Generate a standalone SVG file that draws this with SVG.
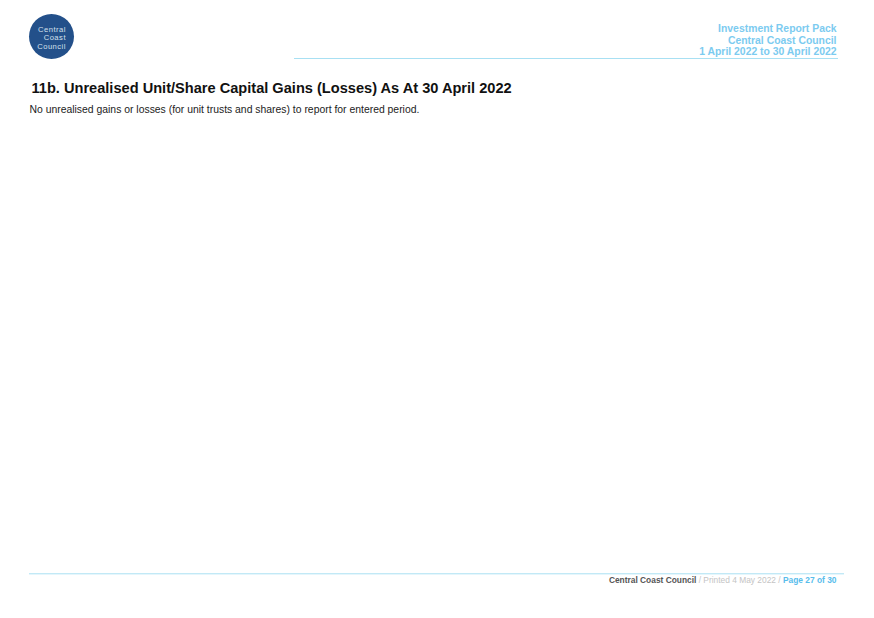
<svg xmlns="http://www.w3.org/2000/svg" width="874" height="618" viewBox="0 0 874 618">
<style>
text{font-family:"Liberation Sans",Arial,sans-serif}
.h{font-size:10.4px;font-weight:700;fill:#7ccbf0;text-anchor:end}
.logo{font-size:7.6px;letter-spacing:.5px;fill:#d5e0ec;text-anchor:end}
.f{font-size:8.4px}
.r{stroke:#a8e0f3;stroke-width:1;fill:none}
</style>
<rect width="874" height="618" fill="#fff"/>
<g id="logo">
<circle cx="51.500" cy="36.500" r="22.500" fill="#23508a"/>
<text class="logo" x="66" y="31.800">Central</text>
<text class="logo" x="66" y="40.400">Coast</text>
<text class="logo" x="66" y="49">Council</text>
</g>
<g id="header">
<text class="h" x="836.500" y="32">Investment Report Pack</text>
<text class="h" x="836.500" y="43.500">Central Coast Council</text>
<text class="h" x="836.500" y="55">1 April 2022 to 30 April 2022</text>
<line class="r" x1="294" y1="58.500" x2="838" y2="58.500"/>
</g>
<g id="content">
<text x="31.500" y="93" font-size="14.600" font-weight="700" fill="#111">11b. Unrealised Unit/Share Capital Gains (Losses) As At 30 April 2022</text>
<text x="29.500" y="112.500" font-size="10.400" fill="#222">No unrealised gains or losses (for unit trusts and shares) to report for entered period.</text>
</g>
<g id="footer">
<line class="r" x1="29" y1="573.800" x2="844" y2="573.800"/>
<text class="f" x="836.500" y="583" text-anchor="end"><tspan font-weight="700" fill="#555">Central Coast Council</tspan><tspan fill="#c4c4c4"> / Printed 4 May 2022 / </tspan><tspan font-weight="700" fill="#58bdec">Page 27 of 30</tspan></text>
</g>
</svg>
